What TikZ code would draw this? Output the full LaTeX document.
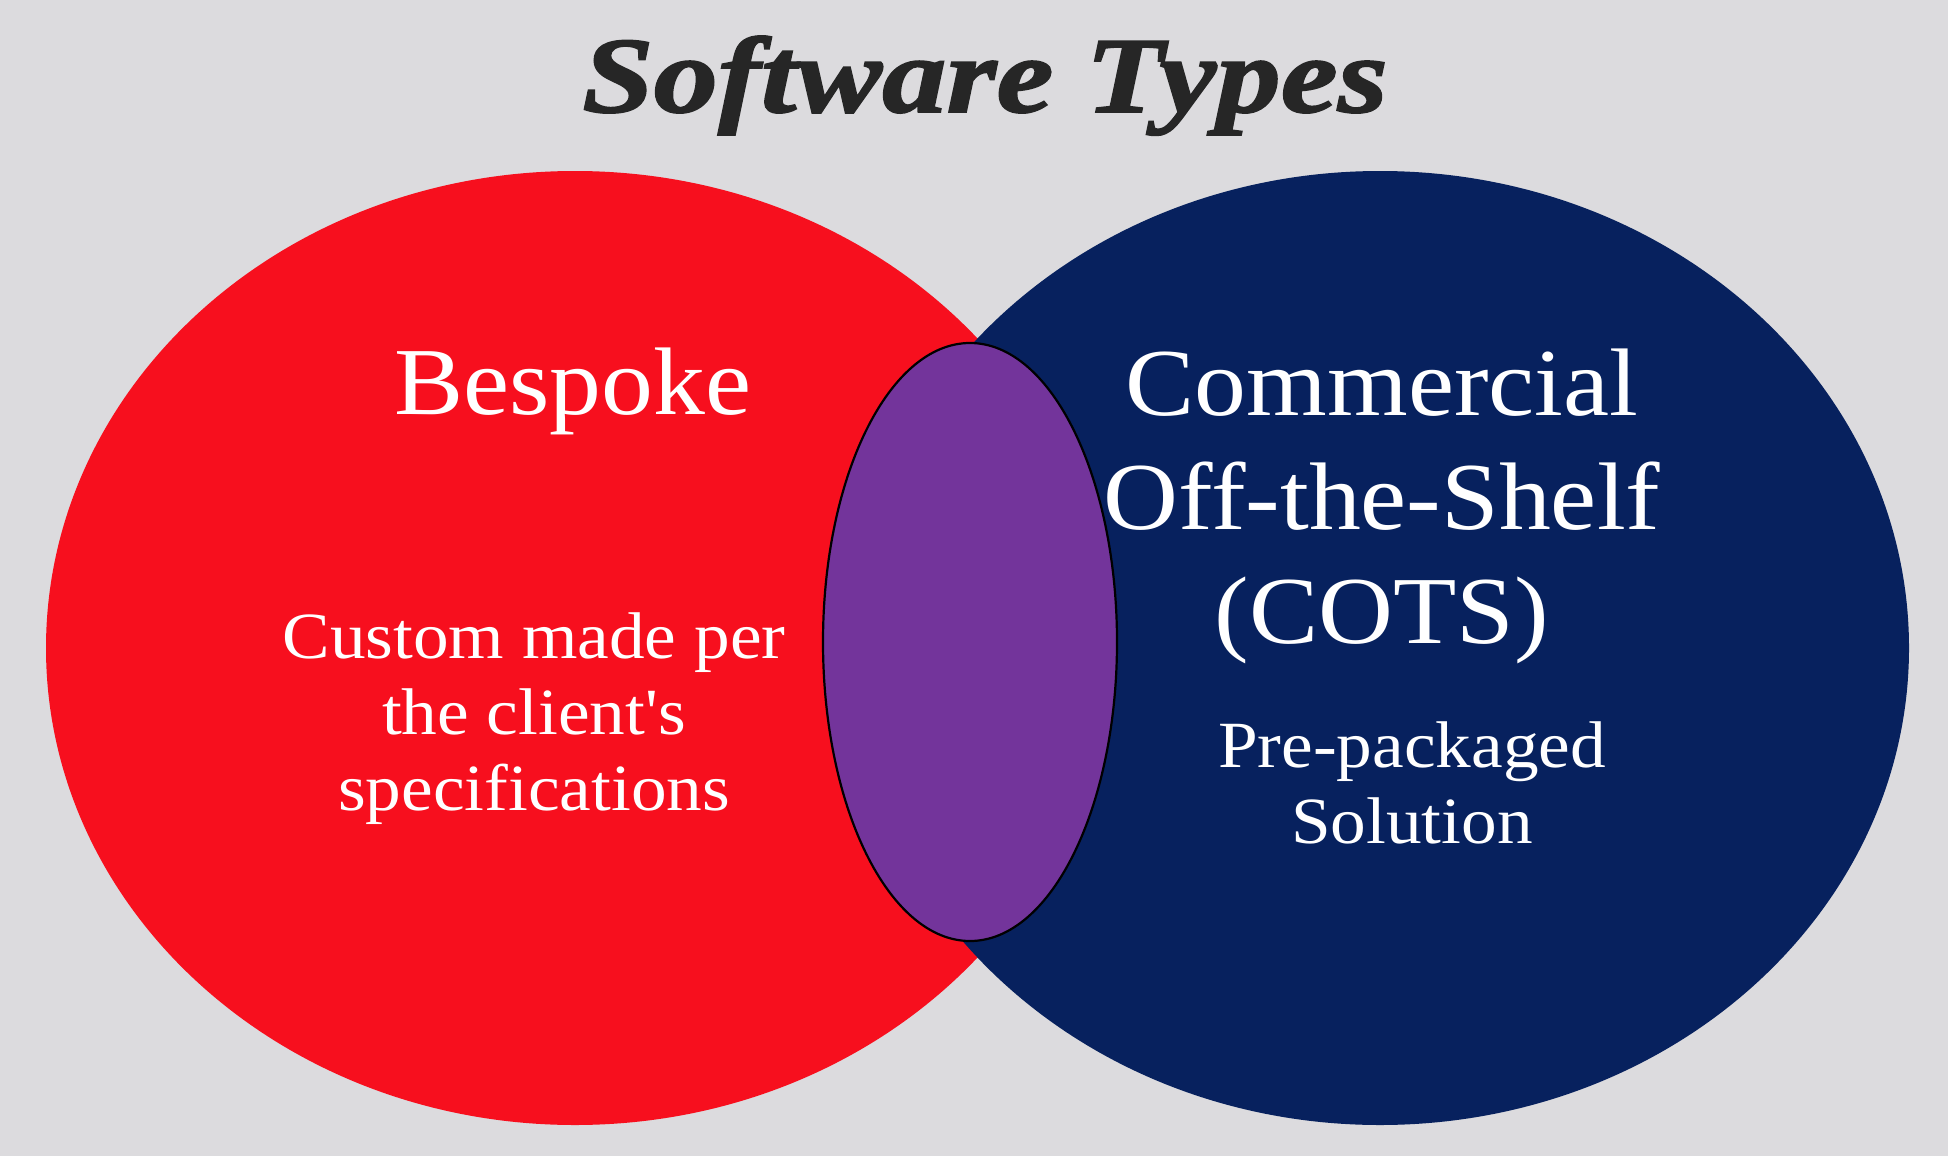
\documentclass[tikz,border=0pt]{standalone}
\usepackage{fontspec}
\setmainfont{Liberation Serif}
\newfontfamily\bodyfont[FakeStretch=1.08]{Liberation Serif}
\newfontfamily\titlefont[FakeStretch=1.19, FakeBold=1.7]{Liberation Serif}
\definecolor{bg}{RGB}{220,219,222}
\definecolor{bespokered}{RGB}{247,15,30}
\definecolor{cotsnavy}{RGB}{7,33,94}
\definecolor{overlap}{RGB}{115,52,155}
\definecolor{titleink}{RGB}{38,38,38}
\tikzset{
  heading/.style={font=\bodyfont\fontsize{48}{57}\selectfont, text=white, align=center, inner sep=0pt},
  detail/.style={font=\bodyfont\fontsize{33}{38}\selectfont, text=white, align=center, inner sep=0pt},
}
\begin{document}
\begin{tikzpicture}[x=0.5pt, y=-0.5pt]
  % canvas
  \fill[bg] (0,0) rectangle (1948,1156);
  \useasboundingbox (0,0) rectangle (1948,1156);

  % the two sets and their overlap
  \fill[bespokered] (575,648) ellipse [x radius=529, y radius=477];
  \fill[cotsnavy] (1380,648) ellipse [x radius=529, y radius=477];
  \draw[fill=overlap, line width=1.1pt, draw=black] (970,642) ellipse [x radius=147, y radius=299];

  % title
  \node[font=\titlefont\bfseries\itshape\fontsize{54}{60}\selectfont, text=titleink, anchor=base, inner sep=0pt]
    (title) at (985,112) {Software Types};

  % left set (base anchor sits on the last line)
  \node[heading, anchor=base] (bespoke) at (573,414) {Bespoke};
  \node[detail, anchor=base] (custom) at (534,810) {Custom made per\\the client's\\specifications};

  % right set
  \node[heading, anchor=base] (cots) at (1382,643) {Commercial\\Off-the-Shelf\\(COTS)};
  \node[detail, anchor=base] (prepack) at (1412,843) {Pre-packaged\\Solution};
\end{tikzpicture}
\end{document}
